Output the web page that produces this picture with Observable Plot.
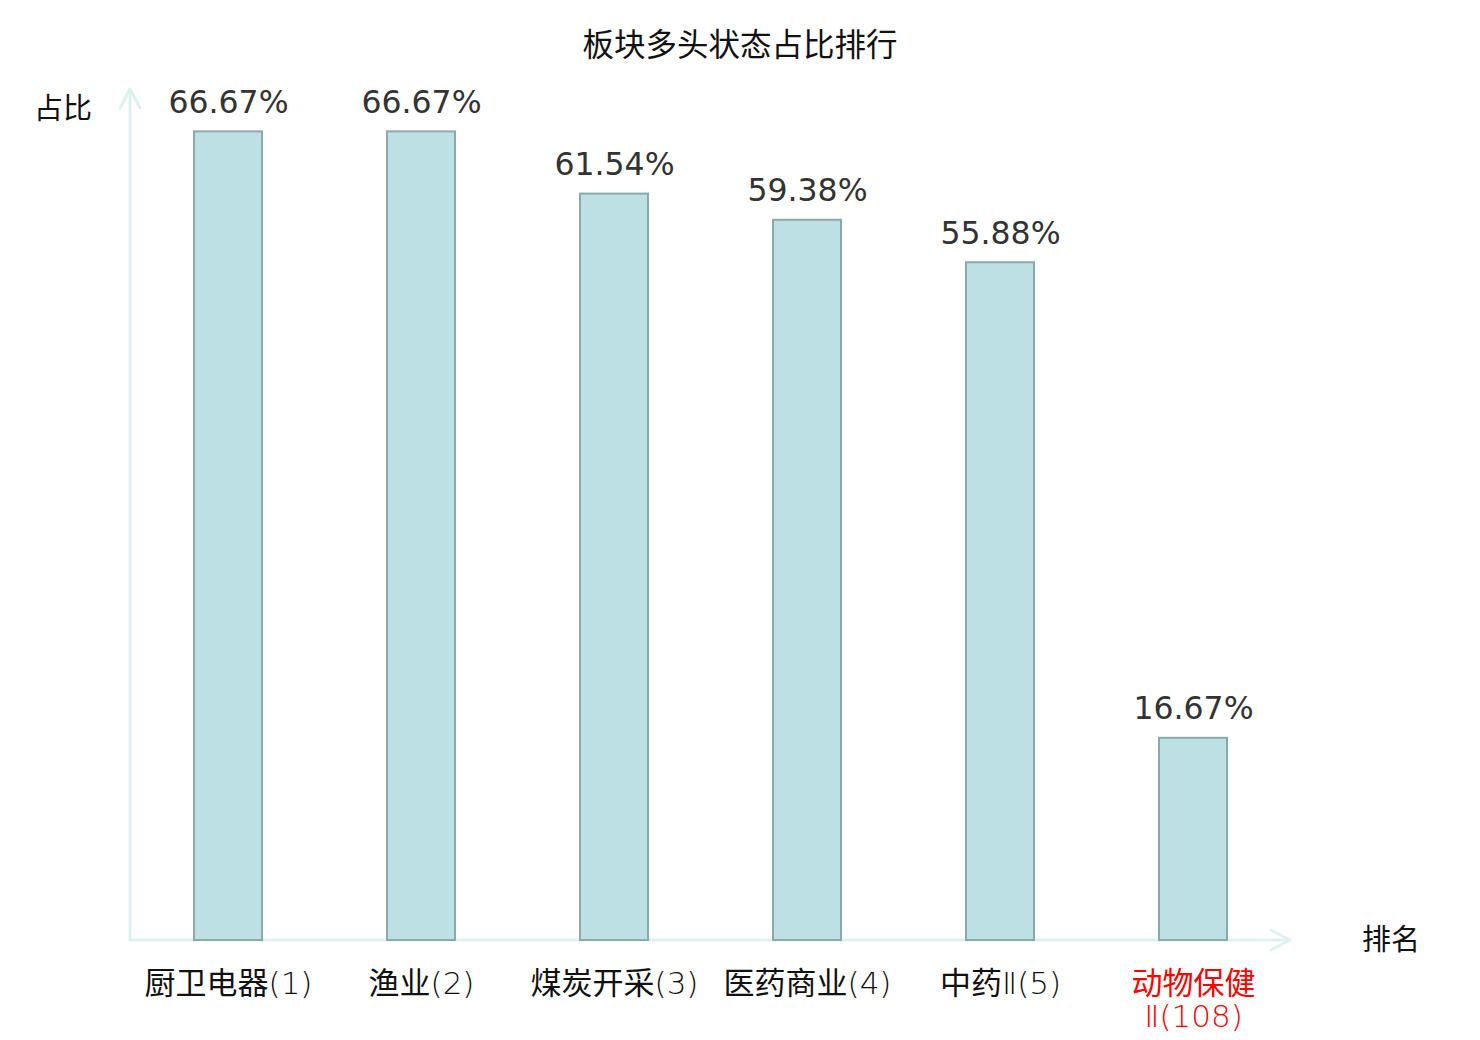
<!DOCTYPE html>
<html>
<head>
<meta charset="utf-8">
<script src="https://cdn.jsdelivr.net/npm/d3@7"></script>
<script src="https://cdn.jsdelivr.net/npm/@observablehq/plot@0.6"></script>
<style>
  html, body { margin: 0; padding: 0; background: #fff; }
  #wrap { position: relative; width: 1480px; height: 1040px; }
  #title { position: absolute; left: 0; width: 1480px; top: 21px; text-align: center;
    font-family: "Noto Sans CJK SC", sans-serif; font-size: 31.5px; color: #111; line-height: 42px; }
</style>
</head>
<body>
<div id="wrap">
  <div id="title">板块多头状态占比排行</div>
  <div id="chart"></div>
</div>
<script>
const categories = ["厨卫电器(1)", "渔业(2)", "煤炭开采(3)", "医药商业(4)", "中药Ⅱ(5)", "动物保健Ⅱ(108)"];
const tickLabels = ["厨卫电器(1)", "渔业(2)", "煤炭开采(3)", "医药商业(4)", "中药Ⅱ(5)", "动物保健\nⅡ(108)"];
const values = [66.67, 66.67, 61.54, 59.38, 55.88, 16.67];
const highlighted = [false, false, false, false, false, true];
const yAxisLabel = "占比";
const xAxisLabel = "排名";

const data = categories.map((c, i) => ({ cat: c, tick: tickLabels[i], value: values[i], hi: highlighted[i] }));

const W = 1480, H = 1040, mL = 130, mR = 190, mT = 91, mB = 100;
const cjk = '"Noto Sans CJK SC", sans-serif';

const chart = Plot.plot({
  width: W, height: H,
  marginLeft: mL, marginRight: mR, marginTop: mT, marginBottom: mB,
  x: { domain: categories, paddingInner: 0.648, paddingOuter: 0.324, axis: null },
  y: { domain: [0, 70], axis: null },
  style: { background: "transparent" },
  marks: [
    Plot.barY(data, { x: "cat", y: "value", fill: "#bce0e3", stroke: "#8aa9a9", strokeWidth: 2 }),
    Plot.text(data, { x: "cat", y: "value", text: d => d.value.toFixed(2) + "%", dy: -29,
      fontSize: 31.5, fill: "#333", fontFamily: '"DejaVu Sans", sans-serif' }),
    Plot.text(data, { x: "cat", y: 0, text: "tick", lineAnchor: "top", dy: 30, lineHeight: 1.06,
      fontSize: 31, fill: d => d.hi ? "#ff0000" : "#111",
      fontFamily: '"DejaVu Sans ExtraLight", "DejaVu Sans Light", "Noto Sans CJK SC", sans-serif' })
  ]
});
document.getElementById("chart").appendChild(chart);

// axis lines with arrowheads, placed through the chart's own scales
const ys = chart.scale("y");
const y0 = ys.apply(0), yTop = ys.apply(70);
const xLeft = mL, xRight = W - mR;
const svg = d3.select(chart);
const g = svg.append("g").attr("fill", "none").attr("stroke", "#dff1ef").attr("stroke-width", 3)
  .attr("stroke-linecap", "round").attr("stroke-linejoin", "round");
g.append("line").attr("x1", xLeft).attr("y1", y0).attr("x2", xLeft).attr("y2", yTop - 2);
g.append("polyline").attr("points", `${xLeft - 10},${yTop + 17} ${xLeft},${yTop - 2} ${xLeft + 10},${yTop + 17}`);
g.append("line").attr("x1", xLeft).attr("y1", y0).attr("x2", xRight).attr("y2", y0);
g.append("polyline").attr("points", `${xRight - 19},${y0 - 10} ${xRight},${y0} ${xRight - 19},${y0 + 10}`);
svg.append("text").attr("x", 63).attr("y", yTop + 20).attr("text-anchor", "middle")
  .attr("font-family", cjk).attr("font-size", 29).attr("fill", "#111").attr("dominant-baseline", "middle").text(yAxisLabel);
svg.append("text").attr("x", 1391).attr("y", y0 + 2).attr("text-anchor", "middle")
  .attr("font-family", cjk).attr("font-size", 29).attr("fill", "#111").attr("dominant-baseline", "middle").text(xAxisLabel);
svg.node().appendChild(svg.select("g[aria-label='bar']").node());
</script>
</body>
</html>
